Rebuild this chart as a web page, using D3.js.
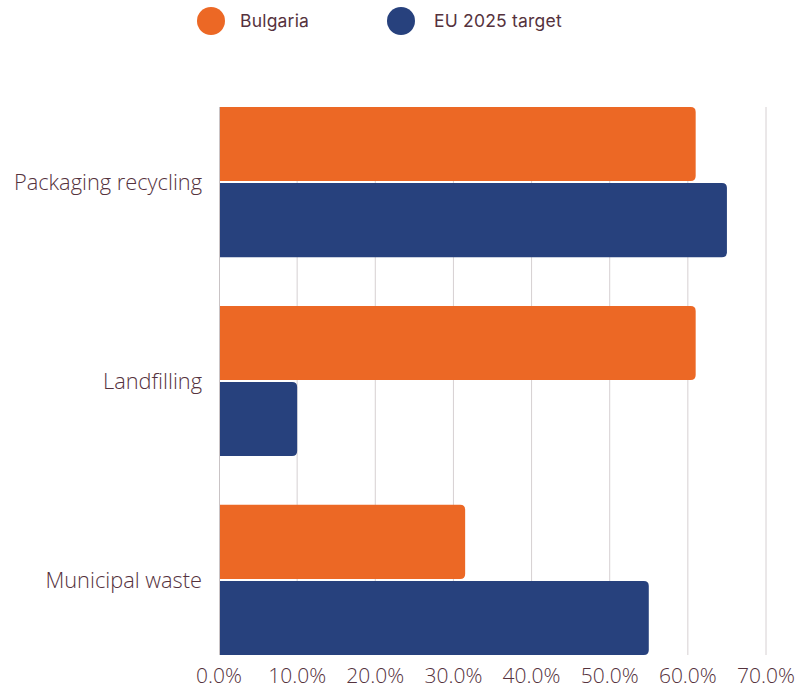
<!DOCTYPE html>
<html>
<head>
<meta charset="utf-8">
<script src="https://cdn.jsdelivr.net/npm/d3@7/dist/d3.min.js"></script>
<style>
  html, body { margin: 0; padding: 0; background: #fff; }
  svg { display: block; }
</style>
</head>
<body>
<svg id="chart" width="810" height="692"></svg>
<script>
// Waste indicators: Bulgaria vs EU 2025 targets (share, %)
const categories = ["Packaging recycling", "Landfilling", "Municipal waste"];
const seriesNames = ["Bulgaria", "EU 2025 target"];
const bulgaria = [61, 61, 31.5];
const euTarget = [65, 10, 55];
const tickValues = [0, 10, 20, 30, 40, 50, 60, 70];

const colors = { "Bulgaria": "#ec6825", "EU 2025 target": "#27417d" };
const textColor = "#55323d";

const svg = d3.select("#chart");
const margin = { top: 107, right: 44, bottom: 37, left: 219 };
const width = 810 - margin.left - margin.right;
const height = 692 - margin.top - margin.bottom;

const x = d3.scaleLinear().domain([0, 70]).range([0, width]);
const y0 = d3.scaleBand().domain(categories).range([0, height]).paddingInner(0.245).paddingOuter(0);
const y1 = d3.scaleBand().domain(seriesNames).range([0, y0.bandwidth()]).paddingInner(0.027);

const g = svg.append("g").attr("transform", `translate(${margin.left},${margin.top})`);

// vertical gridlines
g.append("g")
  .selectAll("line")
  .data(tickValues.slice(1))
  .join("line")
  .attr("x1", d => x(d)).attr("x2", d => x(d))
  .attr("y1", 0).attr("y2", height)
  .attr("stroke", "#d6d0d2").attr("stroke-width", 1);

// bars, rounded on the value end only
function barPath(x0, y, w, h, r) {
  r = Math.min(r, w, h / 2);
  return `M${x0},${y}H${x0 + w - r}Q${x0 + w},${y} ${x0 + w},${y + r}` +
         `V${y + h - r}Q${x0 + w},${y + h} ${x0 + w - r},${y + h}H${x0}Z`;
}

const rows = categories.map((c, i) => ({
  category: c,
  values: [
    { series: "Bulgaria", value: bulgaria[i] },
    { series: "EU 2025 target", value: euTarget[i] }
  ]
}));

const groups = g.append("g")
  .selectAll("g")
  .data(rows)
  .join("g")
  .attr("transform", d => `translate(0,${y0(d.category)})`);

groups.selectAll("path")
  .data(d => d.values)
  .join("path")
  .attr("d", d => barPath(0, y1(d.series), x(d.value), y1.bandwidth(), 5))
  .attr("fill", d => colors[d.series]);

// y axis line
g.append("line")
  .attr("x1", 0.5).attr("x2", 0.5)
  .attr("y1", 0).attr("y2", height)
  .attr("stroke", "#c9c3c5").attr("stroke-width", 1);

// category labels
g.append("g")
  .selectAll("text")
  .data(categories)
  .join("text")
  .attr("x", -17)
  .attr("y", d => y0(d) + y0.bandwidth() / 2)
  .attr("dy", "0.35em")
  .attr("text-anchor", "end")
  .attr("font-family", "'Open Sans', sans-serif")
  .attr("font-weight", 300)
  .attr("font-size", 21.8)
  .attr("fill", textColor)
  .text(d => d);

// x tick labels
const fmt = d3.format(".1f");
g.append("g")
  .selectAll("text")
  .data(tickValues)
  .join("text")
  .attr("x", d => x(d))
  .attr("y", height + 28)
  .attr("text-anchor", "middle")
  .attr("font-family", "'Open Sans', sans-serif")
  .attr("font-weight", 300)
  .attr("font-size", 21)
  .attr("fill", textColor)
  .text(d => fmt(d) + "%");

// legend
const legendX = [211, 401];
const legendTextX = [29, 33];
const legend = svg.append("g")
  .selectAll("g")
  .data(seriesNames)
  .join("g")
  .attr("transform", (d, i) => `translate(${legendX[i]},21)`);

legend.append("circle")
  .attr("r", 14)
  .attr("fill", d => colors[d]);

legend.append("text")
  .attr("x", (d, i) => legendTextX[i])
  .attr("dy", "0.36em")
  .attr("font-family", "Inter, sans-serif")
  .attr("font-size", 17.5)
  .attr("letter-spacing", 0.2)
  .attr("fill", textColor)
  .text(d => d);
</script>
</body>
</html>
